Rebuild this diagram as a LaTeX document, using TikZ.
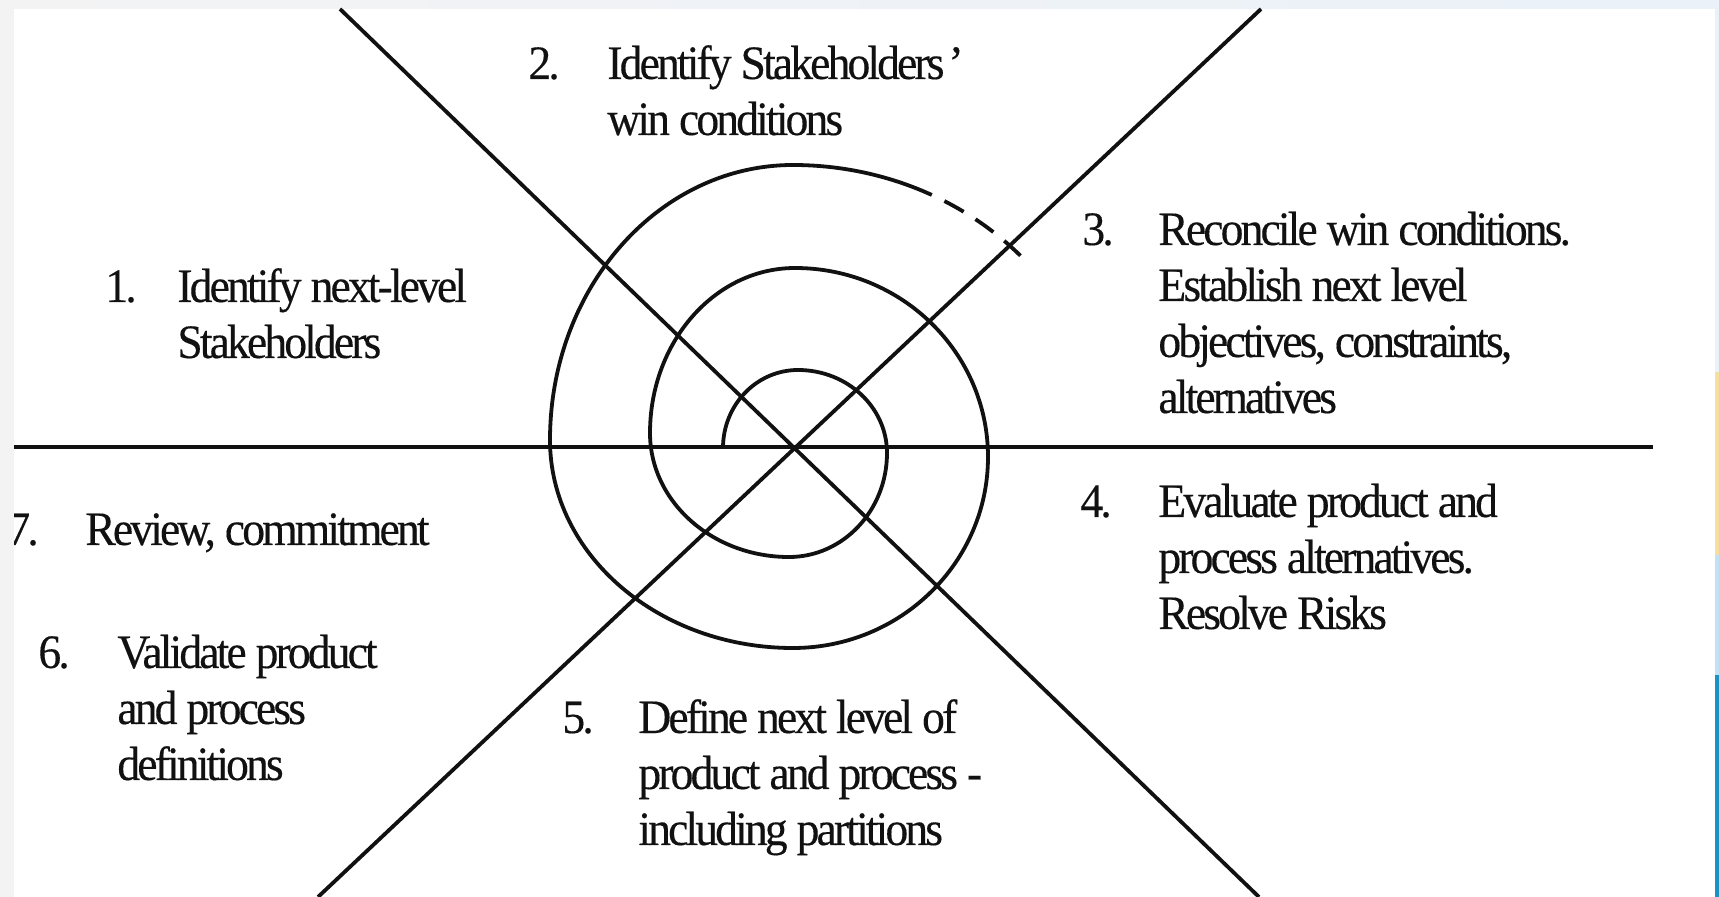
\documentclass[tikz,border=0pt]{standalone}
\usepackage{fontspec}
\setmainfont{Liberation Serif}[FakeStretch=0.95,LetterSpace=-6,FakeBold=0.3]
\definecolor{framegray}{HTML}{F3F3F4}
\definecolor{frameblue}{HTML}{EAF1F8}
\definecolor{edgeyellow}{HTML}{F6E0A0}
\definecolor{edgelight}{HTML}{BFE2F4}
\definecolor{edgeblue}{HTML}{1A92C6}
\definecolor{ink}{HTML}{111111}
\newcommand{\labelfont}{\fontsize{24pt}{28pt}\selectfont}
% tight word spacing used in the labels
\newcommand{\wordgap}{\hspace{4.5pt}}
\begin{document}
\begin{tikzpicture}[x=0.5pt,y=0.5pt,
  axis/.style={line width=1.9pt,draw=ink},
  spiralline/.style={line width=1.9pt,draw=ink},
  itemnum/.style={anchor=base west,inner sep=0pt,text=ink,font=\labelfont},
  itemtext/.style={anchor=base west,inner sep=0pt,text=ink,align=left,
    text width=230pt,font=\labelfont}]
\useasboundingbox (0,0) rectangle (1719,-897);

% page frame and white panel
\fill[framegray] (0,0) rectangle (1719,-897);
\shade[left color=framegray,right color=frameblue] (0,0) rectangle (1719,-9);
\fill[white] (14,-9) rectangle (1715,-897);

% the three axes
\coordinate (hL) at (14,-447);
\coordinate (hR) at (1653,-447);
\coordinate (aT) at (340,-9);
\coordinate (aB) at (1259,-897);
\coordinate (bT) at (1261,-9);
\coordinate (bB) at (318,-897);
\draw[axis] (hL) -- (hR);
\draw[axis] (aT) -- (aB);
\draw[axis] (bT) -- (bB);

% the spiral, built from quarter ellipses
\coordinate (s0) at (723,-448);
\draw[spiralline] (s0)
  arc[start angle=180,end angle=90,x radius=75,y radius=78]
  arc[start angle=90,end angle=0,x radius=89,y radius=83]
  arc[start angle=0,end angle=-90,x radius=98,y radius=104]
  arc[start angle=270,end angle=180,x radius=139,y radius=124]
  arc[start angle=180,end angle=90,x radius=145,y radius=165]
  arc[start angle=90,end angle=0,x radius=193,y radius=189]
  arc[start angle=0,end angle=-90,x radius=195,y radius=191]
  arc[start angle=270,end angle=180,x radius=243,y radius=208]
  arc[start angle=180,end angle=90,x radius=243,y radius=275]
  arc[start angle=90,end angle=63.4,x radius=310,y radius=283]
  coordinate (s1);
\draw[spiralline,dash pattern=on 11pt off 7pt,dash phase=11pt] (s1)
  arc[start angle=63.4,end angle=42.3,x radius=310,y radius=283];

% sector labels
\node[itemnum] (n1) at (105,-302) {1.};
\node[itemtext] (t1) at (177,-302) {Identify\wordgap next-level\\Stakeholders};
\node[itemnum] (n2) at (528,-79) {2.};
\node[itemtext] (t2) at (607,-79) {Identify\wordgap Stakeholders\hspace{2pt}’\\win\wordgap conditions};
\node[itemnum] (n3) at (1082,-245) {3.};
\node[itemtext] (t3) at (1158,-245) {Reconcile\wordgap win\wordgap conditions.\\Establish\wordgap next\wordgap level\\objectives,\wordgap constraints,\\alternatives};
\node[itemnum] (n4) at (1080,-517) {4.};
\node[itemtext] (t4) at (1158,-517) {Evaluate\wordgap product\wordgap and\\process\wordgap alternatives.\\Resolve\wordgap Risks};
\node[itemnum] (n5) at (562,-733) {5.};
\node[itemtext] (t5) at (638,-733) {Define\wordgap next\wordgap level\wordgap of\\product\wordgap and\wordgap process\wordgap -\\including\wordgap partitions};
\node[itemnum] (n6) at (38,-668) {6.};
\node[itemtext] (t6) at (117,-668) {Validate\wordgap product\\and\wordgap process\\definitions};
\node[itemnum] (n7) at (7,-545) {7.};
\node[itemtext] (t7) at (85,-545) {Review,\wordgap commitment};

% frame edges drawn over the panel border
\fill[framegray] (0,0) rectangle (14,-897);
\fill[frameblue] (1715,0) rectangle (1719,-372);
\fill[edgeyellow] (1715,-372) rectangle (1719,-555);
\fill[edgelight] (1715,-555) rectangle (1719,-675);
\fill[edgeblue] (1715,-675) rectangle (1719,-897);
\end{tikzpicture}
\end{document}
